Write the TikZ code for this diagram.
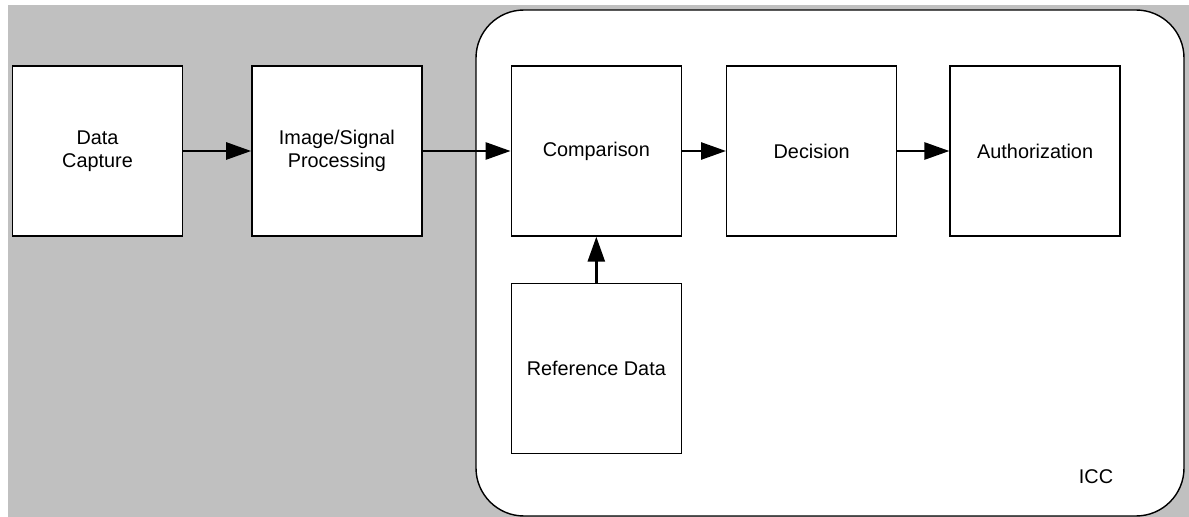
\documentclass[tikz,border=0pt]{standalone}
\usepackage{fontspec}
\setmainfont{Liberation Sans}
\usepackage{xcolor}
\usepackage{tikz}
\usetikzlibrary{arrows.meta, positioning}
\definecolor{bggray}{HTML}{C0C0C0}
\tikzset{
  blk/.style={rectangle, draw=black, line width=0.8pt, fill=white,
    align=center, font=\fontsize{11.3}{13.2}\selectfont,
    minimum width=3.40cm, minimum height=3.40cm, inner sep=0pt},
  iccbox/.style={draw=black, line width=0.8pt, fill=white, rounded corners=0.96cm},
  ar/.style={-{Triangle[length=5mm, width=3.4mm]}, line width=1.5pt},
}

\begin{document}
\begin{tikzpicture}

\useasboundingbox (0,0) rectangle (23.78,-10.34);

% ---- background ----
\fill[bggray] (0.16,-0.10) rectangle (23.78,-10.34);
\draw[iccbox] (9.52,-0.20) rectangle (23.68,-10.32);
\node[font=\fontsize{11.3}{13.2}\selectfont] (icc) at (21.92,-9.54) {ICC};

% ---- blocks ----
\node[blk] (cap) at (1.95,-3.02) {Data\\Capture};
\node[blk, right=1.36cm of cap] (isp) {Image/Signal\\Processing};
\node[blk, right=1.76cm of isp] (cmp) {Comparison};
\node[blk, right=0.88cm of cmp] (dec) {Decision};
\node[blk, right=1.04cm of dec] (auth) {Authorization};
\node[blk, below=0.92cm of cmp] (ref) {Reference Data};

% ---- arrows ----
\draw[ar] (cap) -- (isp);
\draw[ar] (isp) -- (cmp);
\draw[ar] (cmp) -- (dec);
\draw[ar] (dec) -- (auth);
\draw[ar] (ref) -- (cmp);

\end{tikzpicture}
\end{document}
